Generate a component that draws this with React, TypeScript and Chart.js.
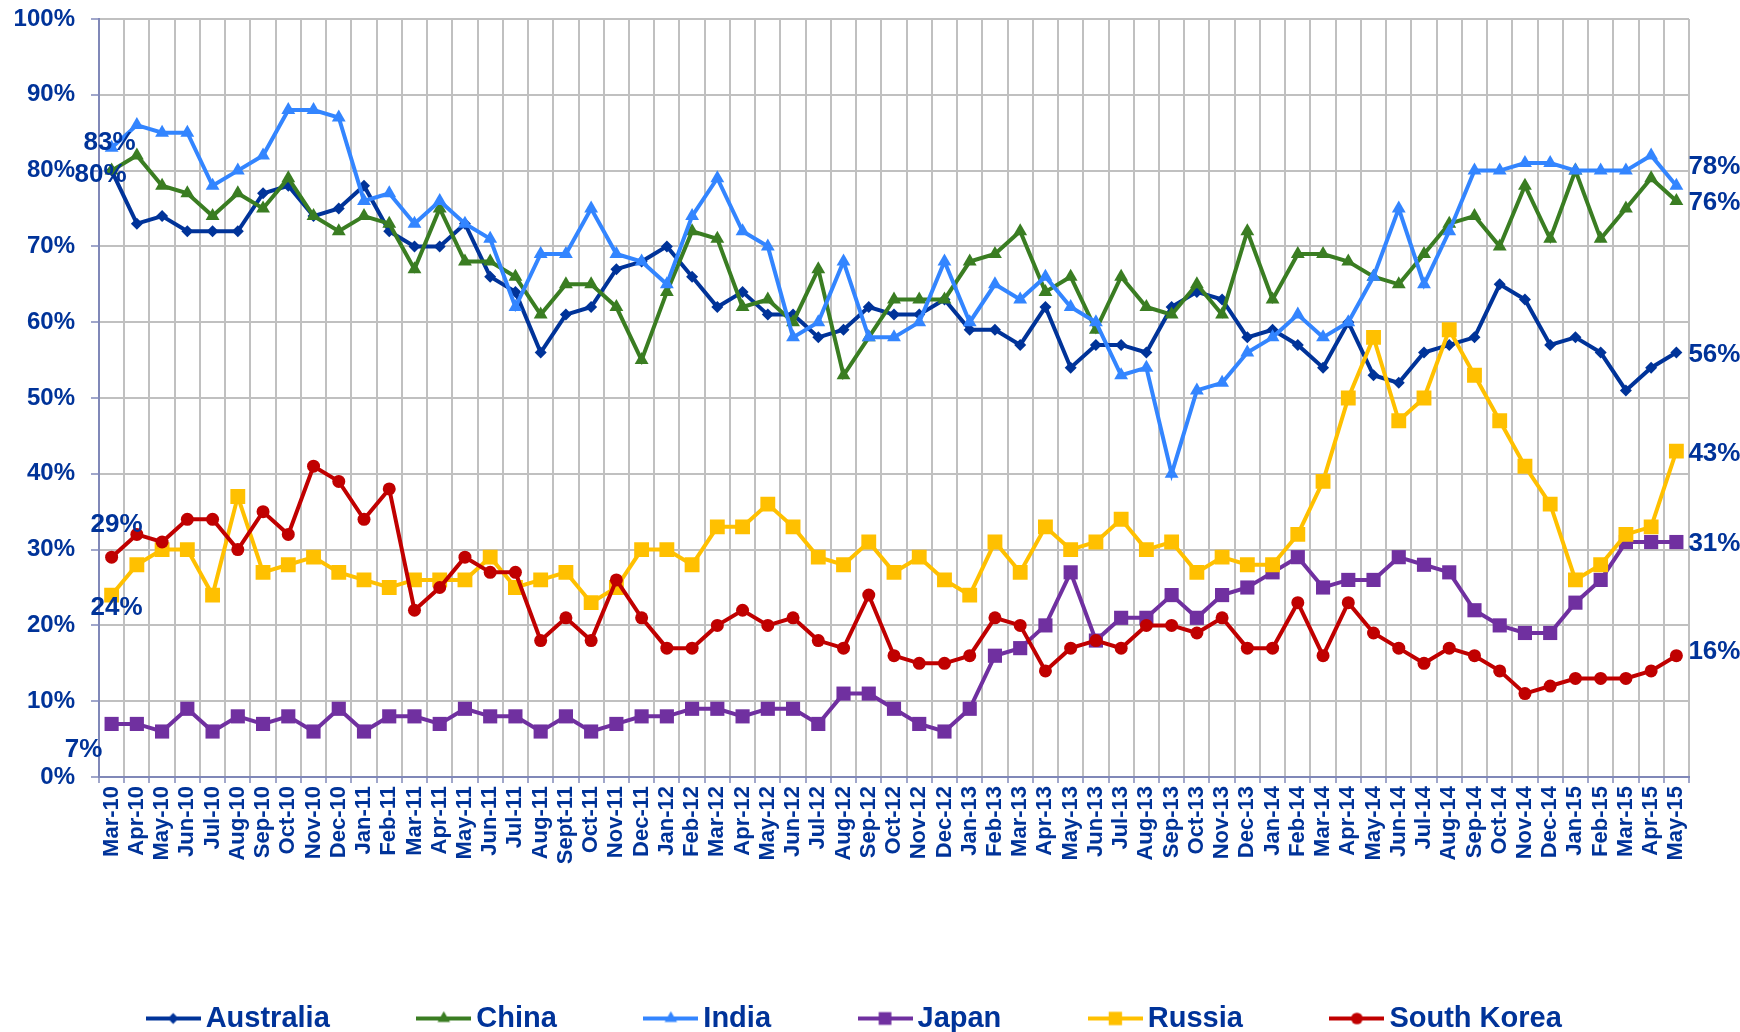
import React, { useEffect, useRef } from 'react';
import { Chart, registerables } from 'chart.js';

Chart.register(...registerables);

const categories = [
  'Mar-10', 'Apr-10', 'May-10', 'Jun-10', 'Jul-10', 'Aug-10', 'Sep-10', 'Oct-10', 'Nov-10', 'Dec-10',
  'Jan-11', 'Feb-11', 'Mar-11', 'Apr-11', 'May-11', 'Jun-11', 'Jul-11', 'Aug-11', 'Sept-11', 'Oct-11', 'Nov-11', 'Dec-11',
  'Jan-12', 'Feb-12', 'Mar-12', 'Apr-12', 'May-12', 'Jun-12', 'Jul-12', 'Aug-12', 'Sep-12', 'Oct-12', 'Nov-12', 'Dec-12',
  'Jan-13', 'Feb-13', 'Mar-13', 'Apr-13', 'May-13', 'Jun-13', 'Jul-13', 'Aug-13', 'Sep-13', 'Oct-13', 'Nov-13', 'Dec-13',
  'Jan-14', 'Feb-14', 'Mar-14', 'Apr-14', 'May-14', 'Jun-14', 'Jul-14', 'Aug-14', 'Sep-14', 'Oct-14', 'Nov-14', 'Dec-14',
  'Jan-15', 'Feb-15', 'Mar-15', 'Apr-15', 'May-15',
];

const australia = [
  80, 73, 74, 72, 72, 72, 77, 78, 74, 75, 78, 72,
  70, 70, 73, 66, 64, 56, 61, 62, 67, 68,
  70, 66, 62, 64, 61, 61, 58, 59, 62, 61, 61, 63,
  59, 59, 57, 62, 54, 57, 57, 56, 62, 64,
  63, 58, 59, 57, 54, 60, 53, 52, 56, 57,
  58, 65, 63, 57, 58, 56, 51, 54, 56,
];

const china = [
  80, 82, 78, 77, 74, 77, 75, 79, 74, 72, 74, 73,
  67, 75, 68, 68, 66, 61, 65, 65, 62, 55,
  64, 72, 71, 62, 63, 60, 67, 53, 58, 63, 63, 63,
  68, 69, 72, 64, 66, 59, 66, 62, 61, 65,
  61, 72, 63, 69, 69, 68, 66, 65, 69, 73,
  74, 70, 78, 71, 80, 71, 75, 79, 76,
];

const india = [
  83, 86, 85, 85, 78, 80, 82, 88, 88, 87, 76, 77,
  73, 76, 73, 71, 62, 69, 69, 75, 69, 68,
  65, 74, 79, 72, 70, 58, 60, 68, 58, 58, 60, 68,
  60, 65, 63, 66, 62, 60, 53, 54, 40, 51,
  52, 56, 58, 61, 58, 60, 66, 75, 65, 72,
  80, 80, 81, 81, 80, 80, 80, 82, 78,
];

const japan = [
  7, 7, 6, 9, 6, 8, 7, 8, 6, 9, 6, 8,
  8, 7, 9, 8, 8, 6, 8, 6, 7, 8,
  8, 9, 9, 8, 9, 9, 7, 11, 11, 9, 7, 6,
  9, 16, 17, 20, 27, 18, 21, 21, 24, 21,
  24, 25, 27, 29, 25, 26, 26, 29, 28, 27,
  22, 20, 19, 19, 23, 26, 31, 31, 31,
];

const russia = [
  24, 28, 30, 30, 24, 37, 27, 28, 29, 27, 26, 25,
  26, 26, 26, 29, 25, 26, 27, 23, 25, 30,
  30, 28, 33, 33, 36, 33, 29, 28, 31, 27, 29, 26,
  24, 31, 27, 33, 30, 31, 34, 30, 31, 27,
  29, 28, 28, 32, 39, 50, 58, 47, 50, 59,
  53, 47, 41, 36, 26, 28, 32, 33, 43,
];

const southKorea = [
  29, 32, 31, 34, 34, 30, 35, 32, 41, 39, 34, 38,
  22, 25, 29, 27, 27, 18, 21, 18, 26, 21,
  17, 17, 20, 22, 20, 21, 18, 17, 24, 16, 15, 15,
  16, 21, 20, 14, 17, 18, 17, 20, 20, 19,
  21, 17, 17, 23, 16, 23, 19, 17, 15, 17,
  16, 14, 11, 12, 13, 13, 13, 14, 16,
];

const seriesNames = ['Australia', 'China', 'India', 'Japan', 'Russia', 'South Korea'];
const yTicks = [0, 10, 20, 30, 40, 50, 60, 70, 80, 90, 100];

const NAVY = '#003399';
const FONT = '"Liberation Sans", Arial, Helvetica, sans-serif';

const styles = [
  { color: '#003399', point: 'rectRot', radius: 6 },
  { color: '#3A7D22', point: 'triangle', radius: 8 },
  { color: '#3385FF', point: 'triangle', radius: 8 },
  { color: '#7030A0', point: 'rect', radius: 10 },
  { color: '#FFC000', point: 'rect', radius: 10.5 },
  { color: '#C00000', point: 'circle', radius: 6.5 },
];

// label placement: dataset index, point index, offsets
const endLabelSpecs = [
  { ds: 2, idx: 0, dx: -2, dy: -5, align: 'center' },
  { ds: 0, idx: 0, dx: -11, dy: 4, align: 'center' },
  { ds: 5, idx: 0, dx: 5, dy: -32, align: 'center' },
  { ds: 4, idx: 0, dx: 5, dy: 13, align: 'center' },
  { ds: 3, idx: 0, dx: -28, dy: 26, align: 'center' },
  { ds: 2, idx: 62, dx: 12, dy: -19, align: 'left' },
  { ds: 1, idx: 62, dx: 12, dy: 2, align: 'left' },
  { ds: 0, idx: 62, dx: 12, dy: 2, align: 'left' },
  { ds: 4, idx: 62, dx: 12, dy: 3, align: 'left' },
  { ds: 3, idx: 62, dx: 12, dy: 2, align: 'left' },
  { ds: 5, idx: 62, dx: 12, dy: -4, align: 'left' },
];

const LEGEND_SHIFT = 14;

function drawMarker(ctx: CanvasRenderingContext2D, type: string, x: number, y: number, r: number) {
  ctx.beginPath();
  if (type === 'circle') {
    ctx.arc(x, y, r, 0, Math.PI * 2);
  } else if (type === 'rect') {
    const s = r * Math.SQRT1_2;
    ctx.rect(x - s, y - s, 2 * s, 2 * s);
  } else if (type === 'rectRot') {
    ctx.moveTo(x, y - r);
    ctx.lineTo(x + r, y);
    ctx.lineTo(x, y + r);
    ctx.lineTo(x - r, y);
    ctx.closePath();
  } else if (type === 'triangle') {
    const w = (r * Math.sqrt(3)) / 2;
    ctx.moveTo(x, y - r);
    ctx.lineTo(x + w, y + r / 2);
    ctx.lineTo(x - w, y + r / 2);
    ctx.closePath();
  }
  ctx.fill();
}

function makeLegendIcon(color: string, type: string, r: number) {
  const c = document.createElement('canvas');
  c.width = 55;
  c.height = 24;
  const ctx = c.getContext('2d') as CanvasRenderingContext2D;
  ctx.strokeStyle = color;
  ctx.fillStyle = color;
  ctx.lineWidth = 4;
  ctx.beginPath();
  ctx.moveTo(0, 12);
  ctx.lineTo(55, 12);
  ctx.stroke();
  drawMarker(ctx, type, 27.5, 12, r);
  return c;
}

const endLabelPlugin = {
  id: 'endLabels',
  afterLayout(chart: any) {
    if (chart.legend) {
      chart.legend.left += LEGEND_SHIFT;
      chart.legend.right += LEGEND_SHIFT;
    }
  },
  afterDatasetsDraw(chart: any) {
    const ctx = chart.ctx as CanvasRenderingContext2D;
    ctx.save();
    ctx.font = `bold 26px ${FONT}`;
    ctx.fillStyle = NAVY;
    ctx.textBaseline = 'middle';
    for (const l of endLabelSpecs) {
      const meta = chart.getDatasetMeta(l.ds);
      const pt = meta.data[l.idx];
      if (!pt) continue;
      const v = chart.data.datasets[l.ds].data[l.idx];
      ctx.textAlign = l.align as CanvasTextAlign;
      ctx.fillText(`${v}%`, pt.x + l.dx, pt.y + l.dy);
    }
    ctx.restore();
  },
};

const CANVAS_H = 1043;

export default function App() {
  const ref = useRef<HTMLCanvasElement | null>(null);

  useEffect(() => {
    if (!ref.current) return;
    const seriesData = [australia, china, india, japan, russia, southKorea];
    const icons = styles.map((s) => makeLegendIcon(s.color, s.point, s.radius * 0.9));
    const datasets = seriesData.map((d, i) => ({
      label: seriesNames[i],
      data: d,
      borderColor: styles[i].color,
      backgroundColor: styles[i].color,
      pointBackgroundColor: styles[i].color,
      pointBorderColor: styles[i].color,
      pointBorderWidth: 0,
      pointStyle: styles[i].point,
      pointRadius: styles[i].radius,
      borderWidth: 4,
      tension: 0,
      fill: false,
      order: 5 - i,
    }));

    const chart = new Chart(ref.current, {
      type: 'line',
      data: { labels: categories, datasets },
      plugins: [endLabelPlugin],
      options: {
        animation: false,
        responsive: false,
        devicePixelRatio: 1,
        layout: { padding: { left: 0, right: 51, top: 19, bottom: 0 } },
        plugins: {
          tooltip: { enabled: false },
          legend: {
            position: 'bottom',
            labels: {
              usePointStyle: true,
              pointStyleWidth: 36,
              padding: 96,
              color: NAVY,
              font: { family: FONT, size: 29, weight: 'bold' },
              generateLabels: (ch: any) =>
                ch.data.datasets.map((ds: any, i: number) => ({
                  text: ds.label,
                  fillStyle: ds.borderColor,
                  strokeStyle: ds.borderColor,
                  lineWidth: 0,
                  pointStyle: icons[i],
                  hidden: false,
                  datasetIndex: i,
                  fontColor: NAVY,
                })),
            },
          },
        },
        scales: {
          x: {
            type: 'category',
            offset: true,
            afterFit: (scale: any) => {
              scale.height = 131;
            },
            grid: {
              offset: true,
              color: '#C0C0C0',
              lineWidth: 2,
              tickLength: 6,
              tickColor: '#8088B8',
              tickWidth: 1.5,
            },
            border: { color: '#8088B8', width: 2 },
            ticks: {
              autoSkip: false,
              minRotation: 90,
              maxRotation: 90,
              padding: 3,
              color: NAVY,
              font: { family: FONT, size: 22, weight: 'bold' },
            },
          },
          y: {
            min: 0,
            max: 100,
            afterFit: (scale: any) => {
              scale.width = 99;
              scale.paddingTop = 0;
              scale.paddingBottom = 0;
            },
            afterBuildTicks: (scale: any) => {
              scale.ticks = yTicks.map((v) => ({ value: v }));
            },
            grid: {
              color: '#C0C0C0',
              lineWidth: 2,
              tickLength: 8,
              tickColor: '#8088B8',
              tickWidth: 1.5,
            },
            border: { color: '#8088B8', width: 2 },
            ticks: {
              padding: 16,
              color: NAVY,
              font: { family: FONT, size: 24, weight: 'bold' },
              callback: (v: any) => `${v}%`,
            },
          },
        },
      },
    } as any);
    return () => chart.destroy();
  }, []);

  return (
    <div style={{ position: 'absolute', left: 0, top: 0, width: 1740, height: 1032, overflow: 'hidden', background: '#fff' }}>
      <canvas ref={ref} width={1740} height={CANVAS_H} style={{ display: 'block', width: 1740, height: CANVAS_H }} />
    </div>
  );
}
